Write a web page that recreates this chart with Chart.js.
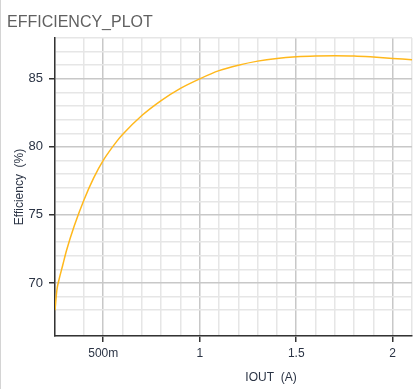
<!DOCTYPE html>
<html>
<head>
<meta charset="utf-8">
<script src="https://cdn.jsdelivr.net/npm/chart.js@4.4.0/dist/chart.umd.min.js"></script>
<style>
  html, body { margin: 0; padding: 0; background: #fff; overflow: hidden; }
  #wrap { width: 412px; height: 389px; border-left: 1px solid #d4d4d4; overflow: hidden; }
</style>
</head>
<body>
<div id="wrap"><canvas id="effChart" width="415" height="389"></canvas></div>
<script>
// IOUT (A) and efficiency (%)
var iout = [0.25, 0.26, 0.27, 0.29, 0.31, 0.35, 0.40, 0.45, 0.50, 0.57, 0.60, 0.70, 0.80, 0.90, 1.00,
            1.10, 1.20, 1.30, 1.40, 1.50, 1.60, 1.70, 1.80, 1.90, 2.00, 2.10];
var efficiency = [68.0, 69.5, 70.2, 71.3, 72.4, 74.2, 76.1, 77.7, 79.0, 80.4, 80.9, 82.3, 83.4, 84.3, 85.0,
                  85.6, 86.0, 86.3, 86.5, 86.62, 86.68, 86.7, 86.68, 86.6, 86.5, 86.4];
var xTickLabels = { 0.5: '500m', 1: '1', 1.5: '1.5', 2: '2' };
var yTickLabels = [70, 75, 80, 85];

var points = iout.map(function (x, i) { return { x: x, y: efficiency[i] }; });

function isMajorX(v) { return Math.abs(v * 2 - Math.round(v * 2)) < 1e-6; }
function isMajorY(v) { return yTickLabels.indexOf(Math.round(v)) >= 0 && Math.abs(v - Math.round(v)) < 1e-6; }

var titles = {
    id: 'titles',
    afterDraw: function (chart) {
        var ctx = chart.ctx, area = chart.chartArea;
        ctx.save();
        ctx.fillStyle = '#606060';
        ctx.font = '16px "Liberation Sans", Arial, sans-serif';
        ctx.textBaseline = 'alphabetic';
        ctx.textAlign = 'left';
        ctx.fillText('EFFICIENCY_PLOT', 6, 27);

        ctx.fillStyle = '#2b3445';
        ctx.font = '12px "Liberation Sans", Arial, sans-serif';
        ctx.textAlign = 'center';
        ctx.fillText('IOUT  (A)', 270, 381);

        ctx.font = '12px "Liberation Sans", Arial, sans-serif';
        ctx.translate(22, (area.top + area.bottom) / 2);
        ctx.rotate(-Math.PI / 2);
        ctx.fillText('Efficiency  (%)', 0, 0);
        ctx.restore();
    }
};

var ctx = document.getElementById('effChart').getContext('2d');
var effChart = new Chart(ctx, {
    type: 'scatter',
    data: {
        datasets: [{
            label: 'Efficiency',
            data: points,
            showLine: true,
            borderColor: '#ffb81c',
            backgroundColor: '#ffb81c',
            borderWidth: 1.5,
            pointRadius: 0,
            cubicInterpolationMode: 'monotone'
        }]
    },
    options: {
        responsive: false,
        animation: false,
        layout: { padding: { top: 38, right: 0, left: 0, bottom: 0 } },
        plugins: { legend: { display: false }, tooltip: { enabled: false } },
        scales: {
            x: {
                type: 'linear',
                min: 0.25,
                max: 2.1,
                afterFit: function (scale) { scale.height = 53; },
                ticks: {
                    stepSize: 0.1,
                    autoSkip: false,
                    maxRotation: 0,
                    padding: 4,
                    color: '#2b3445',
                    font: { size: 12, family: '"Liberation Sans", Arial, sans-serif' },
                    callback: function (v) {
                        var r = Math.round(v * 10) / 10;
                        return isMajorX(v) && xTickLabels[r] ? xTickLabels[r] : '';
                    }
                },
                grid: {
                    tickLength: 6,
                    color: function (c) { return isMajorX(c.tick.value) ? '#c8c8c8' : '#e6e6e6'; },
                    lineWidth: 1.5,
                    tickColor: function (c) { return isMajorX(c.tick.value) ? '#333' : 'rgba(0,0,0,0)'; }
                },
                border: { color: '#333', width: 1.5 }
            },
            y: {
                min: 66.1,
                max: 88,
                afterFit: function (scale) { scale.width = 54; },
                ticks: {
                    stepSize: 1,
                    autoSkip: false,
                    padding: 6,
                    color: '#2b3445',
                    font: { size: 13, family: '"Liberation Sans", Arial, sans-serif' },
                    callback: function (v) { return isMajorY(v) ? String(Math.round(v)) : ''; }
                },
                grid: {
                    tickLength: 6,
                    color: function (c) { return isMajorY(c.tick.value) ? '#c8c8c8' : '#e6e6e6'; },
                    lineWidth: 1.5,
                    tickColor: function (c) { return isMajorY(c.tick.value) ? '#333' : 'rgba(0,0,0,0)'; }
                },
                border: { color: '#333', width: 1.5 }
            }
        }
    },
    plugins: [titles]
});
</script>
</body>
</html>
